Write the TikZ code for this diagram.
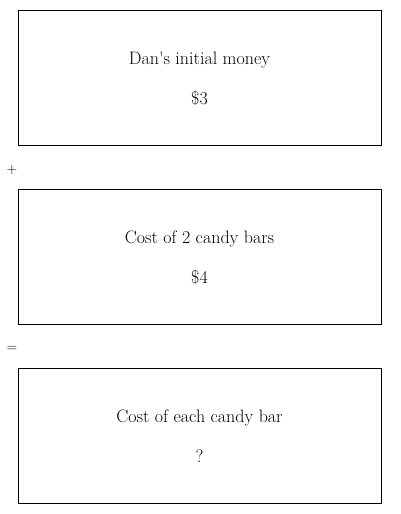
\documentclass[tikz,border=0pt]{standalone}
\usepackage{tikz}
\usetikzlibrary{positioning}

\tikzset{
  caixa/.style={draw, line width=0.8pt, minimum width=363pt, minimum height=135pt, inner sep=0pt},
  rotulo/.style={font=\fontsize{18}{21}\selectfont},
  sinal/.style={font=\sffamily\fontsize{14}{16}\selectfont}
}

\begin{document}
\begin{tikzpicture}[x=1pt, y=-1pt]
	\useasboundingbox (0,0) rectangle (400,514);
	
	%% Dinheiro inicial
	\node [caixa] (inicial) at (199.5,77.5) {};
	\node [rotulo] (inicialtxt) at (199.5,60) {Dan\textquotesingle s initial money};
	\node [rotulo] (inicialval) at (199.5,98) {\$3};
	
	%% Soma
	\node [sinal] (mais) at (12,170) {+};
	
	%% Custo das barras
	\node [caixa] (custo) at (199.5,256.5) {};
	\node [rotulo] (custotxt) at (199.5,239) {Cost of 2 candy bars};
	\node [rotulo] (custoval) at (199.5,277) {\$4};
	
	%% Igual
	\node [sinal] (igual) at (12,349) {=};
	
	%% Custo de cada barra
	\node [caixa] (cada) at (199.5,435.5) {};
	\node [rotulo] (cadatxt) at (199.5,418) {Cost of each candy bar};
	\node [rotulo] (cadaval) at (199.5,456) {?};
\end{tikzpicture}
\end{document}
